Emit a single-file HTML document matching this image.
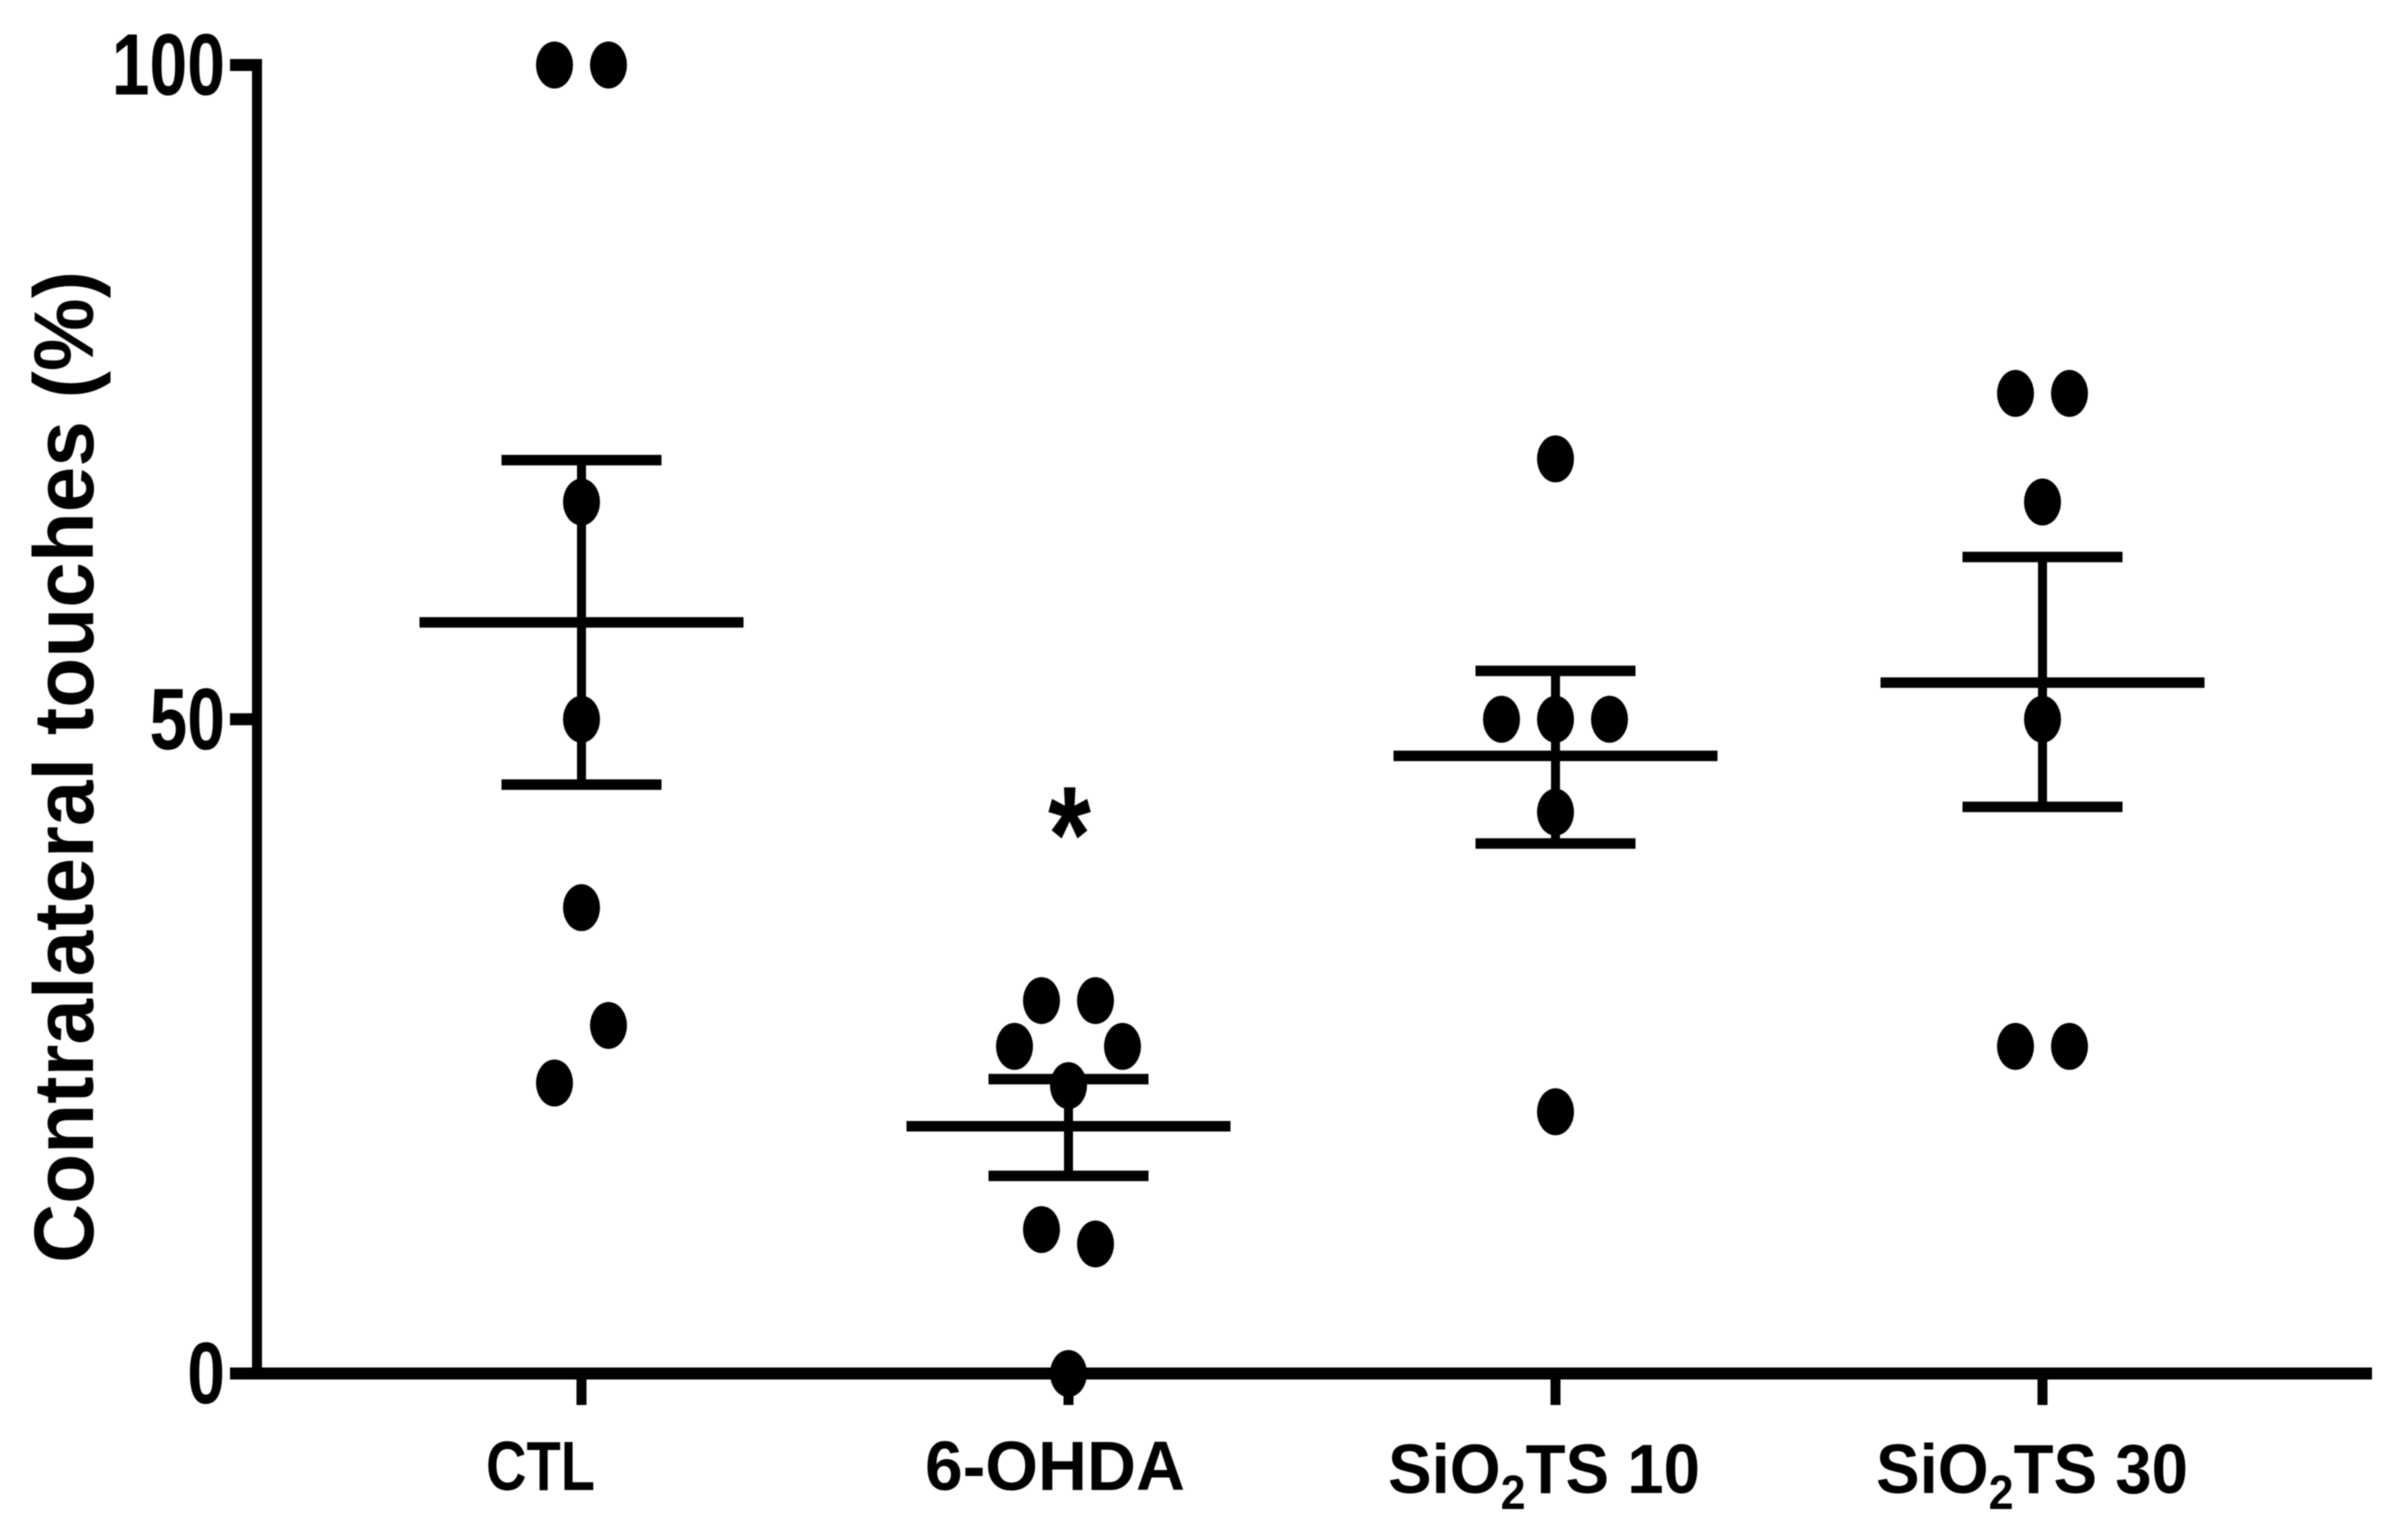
<!DOCTYPE html>
<html lang="en">
<head>
<meta charset="utf-8">
<title>Contralateral touches</title>
<style>
html,body{margin:0;padding:0;background:#fff;}
svg{display:block;filter:blur(0.6px);}
text{font-family:"Liberation Sans",sans-serif;font-weight:bold;fill:#000;}
</style>
</head>
<body>
<svg id="chart" xmlns="http://www.w3.org/2000/svg" width="2399" height="1539" viewBox="0 0 2399 1539">
  <rect x="0" y="0" width="2399" height="1539" fill="#fff"/>
  <g id="marks"></g>
  <g id="axes"></g>
  <text transform="translate(93,1263) rotate(-90)" font-size="84" textLength="992" lengthAdjust="spacingAndGlyphs">Contralateral touches (%)</text>
  <text x="486" y="1490" font-size="70" textLength="109" lengthAdjust="spacingAndGlyphs">CTL</text>
  <text x="925" y="1490" font-size="70" textLength="260" lengthAdjust="spacingAndGlyphs">6-OHDA</text>
  <text x="1388" y="1493" font-size="70" textLength="312" lengthAdjust="spacingAndGlyphs">SiO<tspan font-size="48" dy="16">2</tspan><tspan dy="-16">TS 10</tspan></text>
  <text x="1876" y="1493" font-size="70" textLength="312" lengthAdjust="spacingAndGlyphs">SiO<tspan font-size="48" dy="16">2</tspan><tspan dy="-16">TS 30</tspan></text>
  <text transform="translate(1069.5,882) scale(1,1.25)" font-size="110" text-anchor="middle">*</text>
</svg>
<script>
const categories = ['CTL', '6-OHDA', 'SiO2TS 10', 'SiO2TS 30'];
const yTicks = [0, 50, 100];
const ctlValues = [100, 100, 66.6, 50, 35.6, 26.6, 22.2];
const ctlSlots = [-1, 1, 0, 0, 0, 1, -1];
const ohdaValues = [28.5, 28.5, 25, 25, 22, 11, 9.9, 0];
const ohdaSlots = [-1, 1, -2, 2, 0, -1, 1, 0];
const sio10Values = [69.9, 50, 50, 50, 42.9, 20];
const sio10Slots = [0, -2, 0, 2, 0, 0];
const sio30Values = [74.9, 74.9, 66.6, 50, 25, 25];
const sio30Slots = [-1, 1, 0, 0, -1, 1];
const groupValues = [ctlValues, ohdaValues, sio10Values, sio30Values];
const groupSlots = [ctlSlots, ohdaSlots, sio10Slots, sio30Slots];
const means = [57.4, 18.9, 47.2, 52.8];
const semUpper = [69.8, 22.5, 53.7, 62.4];
const semLower = [45, 15.1, 40.5, 43.3];

const NS = 'http://www.w3.org/2000/svg';
const Y0 = 1373.5, Y100 = 65;
const X0 = 581.5, XSTEP = 487;
const SLOT = 27;
function yPos(v) { return Y0 - (v / 100) * (Y0 - Y100); }
function xPos(i) { return X0 + i * XSTEP; }
function make(tag, parent) {
  const el = document.createElementNS(NS, tag);
  parent.appendChild(el);
  return el;
}
function line(parent, x1, y1, x2, y2, w) {
  const el = make('line', parent);
  el.setAttribute('x1', x1);
  el.setAttribute('y1', y1);
  el.setAttribute('x2', x2);
  el.setAttribute('y2', y2);
  el.setAttribute('stroke', '#000');
  el.setAttribute('stroke-width', w);
  return el;
}
const marks = document.getElementById('marks');
const axes = document.getElementById('axes');

categories.forEach(function (cat, i) {
  const key = cat.toLowerCase().replace(/\s+/g, '-');
  const cx = xPos(i);
  const vert = line(marks, cx, yPos(semUpper[i]), cx, yPos(semLower[i]), 9);
  
  
  const capU = line(marks, cx - 80, yPos(semUpper[i]), cx + 80, yPos(semUpper[i]), 10.5);
  
  
  const capL = line(marks, cx - 80, yPos(semLower[i]), cx + 80, yPos(semLower[i]), 10.5);
  
  
  const mean = line(marks, cx - 162, yPos(means[i]), cx + 162, yPos(means[i]), 10.5);
  
  
  groupValues[i].forEach(function (v, j) {
    const dot = make('ellipse', marks);
    dot.setAttribute('cx', cx + groupSlots[i][j] * SLOT);
    dot.setAttribute('cy', yPos(v));
    dot.setAttribute('rx', 18.5);
    dot.setAttribute('ry', 23.5);
    dot.setAttribute('fill', '#000');
    
    
  });
  const tick = line(axes, cx, Y0, cx, Y0 + 31.5, 10);
  
  
});

const yAxis = line(axes, 257, yPos(100) - 6, 257, Y0, 10);


const xAxis = line(axes, 231, Y0, 2372, Y0, 12);



yTicks.forEach(function (t) {
  const tick = line(axes, 230, yPos(t), 257, yPos(t), 12);
  
  
  const label = make('text', axes);
  label.textContent = String(t);
  label.setAttribute('transform', 'translate(225,' + (yPos(t) + 29.5) + ') scale(0.78,1)');
  label.setAttribute('text-anchor', 'end');
  label.setAttribute('font-size', 87);
  
  
});
</script>
</body>
</html>
